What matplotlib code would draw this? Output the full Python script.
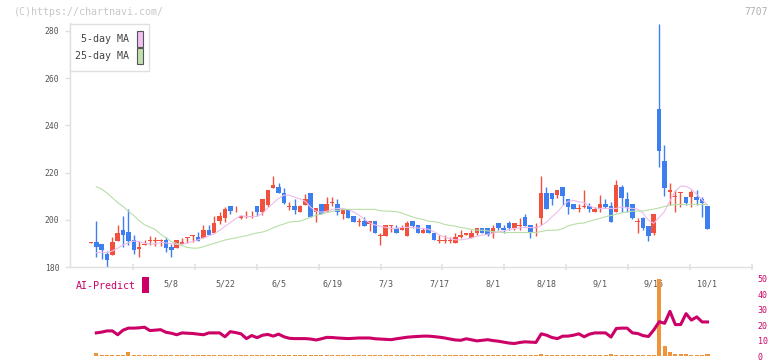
import numpy as np
import matplotlib
matplotlib.use('Agg')
import matplotlib.pyplot as plt
from matplotlib.patches import Rectangle

plt.rcParams['font.family'] = ['DejaVu Sans Mono']

# ローソク足 (open, high, low, close)
opens = [190.3, 190.6, 189.6, 185.5, 185.1, 191.1, 195.6, 194.9, 191.4, 187.6,
         189.3, 191.1, 191.0, 190.9, 191.3, 188.5, 188.2, 189.6, 192.3, 193.2,
         192.7, 192.4, 195.6, 194.6, 199.3, 200.6, 205.8, 203.5, 200.6, 201.3,
         201.3, 205.8, 203.4, 206.2, 213.5, 213.8, 211.5, 205.6, 205.8, 203.4,
         206.2, 211.5, 203.4, 206.5, 203.4, 207.1, 206.6, 202.3, 204.4, 201.5,
         199.0, 199.4, 198.2, 199.4, 193.0, 193.2, 197.5, 196.6, 195.6, 193.2,
         199.4, 197.7, 194.5, 197.7, 194.6, 191.1, 191.1, 191.1, 190.1, 192.7,
         193.5, 192.4, 194.6, 196.6, 196.6, 194.6, 198.5, 196.6, 198.5, 196.3,
         197.3, 201.3, 197.7, 196.4, 200.6, 211.5, 211.5, 210.4, 213.8, 208.7,
         206.5, 204.6, 205.6, 205.8, 203.4, 204.4, 206.5, 205.8, 203.4, 213.8,
         208.7, 206.5, 199.0, 200.6, 197.5, 194.6, 246.8, 224.8, 211.6, 209.5,
         211.4, 209.5, 209.5, 209.5, 208.8, 205.8]
highs = [190.6, 199.4, 189.9, 186.8, 192.8, 197.7, 201.5, 204.5, 193.5, 191.1,
         191.3, 193.3, 192.8, 191.9, 192.8, 189.9, 191.3, 192.1, 192.5, 193.4,
         194.9, 197.7, 197.7, 201.7, 203.1, 205.5, 205.8, 205.8, 201.7, 203.7,
         203.7, 205.8, 208.7, 212.5, 218.5, 215.6, 213.5, 207.6, 208.7, 206.2,
         210.7, 211.5, 204.8, 206.5, 209.6, 209.6, 208.7, 204.5, 204.4, 201.5,
         200.6, 201.3, 199.4, 199.4, 194.6, 197.7, 197.7, 197.7, 197.7, 199.4,
         199.4, 197.7, 196.6, 197.7, 194.6, 193.5, 193.5, 192.8, 194.6, 195.6,
         194.6, 195.6, 196.6, 196.6, 196.6, 197.7, 198.5, 197.7, 199.4, 198.5,
         200.6, 202.3, 197.7, 198.5, 218.5, 213.8, 211.5, 212.5, 213.8, 208.7,
         206.5, 206.5, 212.5, 207.2, 205.5, 210.4, 208.7, 207.6, 216.8, 214.6,
         211.7, 206.5, 200.6, 201.3, 197.5, 202.3, 282.7, 231.6, 215.5, 212.6,
         211.6, 209.5, 212.6, 212.6, 209.7, 205.8]
lows = [190.2, 184.4, 183.2, 180.1, 185.1, 191.1, 188.3, 189.3, 185.4, 184.4,
        189.3, 189.3, 188.8, 188.8, 186.2, 184.4, 188.2, 189.6, 190.3, 190.7,
        191.1, 192.1, 193.4, 194.6, 198.3, 199.2, 202.3, 203.4, 200.3, 200.6,
        200.6, 201.7, 202.0, 205.5, 213.5, 211.5, 206.5, 204.2, 202.3, 203.4,
        206.2, 201.3, 199.2, 202.3, 203.4, 205.9, 202.0, 200.3, 200.6, 199.2,
        197.5, 197.5, 195.2, 194.5, 189.4, 193.2, 194.9, 194.5, 195.6, 193.2,
        196.3, 194.5, 194.5, 194.5, 191.3, 190.1, 190.1, 190.1, 190.1, 192.1,
        193.4, 192.4, 193.5, 194.6, 193.2, 192.4, 195.6, 194.6, 195.6, 195.6,
        195.6, 197.5, 192.4, 193.2, 197.7, 204.4, 206.2, 209.3, 206.2, 202.3,
        204.4, 203.4, 204.8, 203.4, 203.4, 203.4, 204.8, 199.2, 203.4, 203.4,
        203.4, 200.2, 194.6, 195.6, 191.1, 193.5, 222.4, 210.1, 206.2, 203.4,
        205.5, 206.2, 205.5, 206.2, 201.3, 196.1]
closes = [190.5, 188.3, 187.0, 183.1, 190.6, 194.6, 193.4, 191.1, 187.3, 188.5,
          189.6, 191.3, 191.2, 191.1, 188.2, 187.3, 191.3, 190.6, 192.5, 193.4,
          191.1, 195.6, 193.4, 198.7, 201.5, 204.4, 203.7, 203.7, 201.7, 201.5,
          201.5, 203.4, 208.7, 212.5, 214.6, 211.5, 207.3, 205.8, 204.2, 205.8,
          208.7, 201.3, 204.8, 202.3, 206.5, 207.3, 203.4, 204.5, 200.6, 199.2,
          199.2, 197.5, 199.4, 194.5, 193.2, 197.7, 197.7, 194.5, 196.6, 198.5,
          197.5, 194.5, 195.6, 194.5, 191.3, 191.3, 191.3, 191.3, 192.7, 193.5,
          194.6, 194.6, 196.6, 194.6, 193.5, 196.6, 196.3, 195.6, 196.3, 198.5,
          197.5, 197.5, 194.6, 196.6, 211.5, 204.4, 208.7, 212.5, 210.1, 205.5,
          204.4, 204.8, 205.8, 204.4, 204.5, 206.5, 205.4, 199.2, 214.6, 209.3,
          205.5, 200.6, 199.2, 196.3, 193.2, 202.3, 229.2, 213.5, 212.6, 209.7,
          211.6, 207.3, 211.6, 208.4, 207.3, 196.1]

# 移動平均 (index 1 から)
ma5 = [186.0, 186.3, 186.0, 186.8, 188.0, 189.3, 190.3, 191.0, 190.8, 190.0,
       189.8, 189.8, 190.4, 190.2, 189.8, 189.6, 189.6, 190.2, 190.8, 191.5,
       192.3, 193.2, 194.1, 195.5, 197.2, 198.8, 200.4, 201.8, 201.3, 201.3,
       201.5, 202.6, 205.0, 207.0, 209.0, 210.4, 210.4, 209.6, 208.8, 207.8,
       205.3, 203.6, 203.2, 203.6, 204.3, 204.8, 204.8, 204.3, 203.3, 202.0,
       200.2, 198.7, 197.8, 197.2, 196.8, 196.3, 196.3, 196.8, 196.8, 196.8,
       196.5, 196.3, 196.0, 195.0, 193.6, 192.7, 192.0, 191.5, 191.5, 191.8,
       192.3, 193.0, 193.5, 193.8, 194.4, 194.8, 195.3, 195.8, 196.3, 196.6,
       196.7, 196.7, 196.6, 197.5, 199.0, 201.2, 203.2, 205.8, 207.8, 208.2,
       207.6, 207.3, 205.8, 205.0, 204.8, 204.8, 204.8, 204.8, 205.4, 205.0,
       204.8, 204.5, 202.8, 199.8, 198.5, 201.0, 203.5, 207.8, 212.0, 214.2,
       214.2, 213.0, 210.8, 208.5, 206.3]
ma25 = [214.0, 213.0, 211.3, 209.3, 207.3, 205.6, 203.6, 201.8, 199.6, 197.9,
        196.9, 195.9, 193.9, 192.4, 190.7, 190.0, 189.0, 188.3, 188.0, 188.0,
        188.6, 189.3, 190.0, 190.7, 191.4, 191.9, 192.3, 192.8, 193.2, 193.9,
        194.4, 194.8, 195.5, 196.6, 197.5, 198.2, 199.0, 199.2, 199.4, 200.2,
        201.1, 201.9, 202.4, 203.1, 203.5, 204.0, 204.3, 204.4, 204.4, 204.4,
        204.4, 204.4, 204.4, 203.8, 203.7, 203.6, 203.4, 202.9, 202.0, 201.2,
        200.6, 200.1, 199.4, 199.2, 198.8, 198.0, 197.6, 197.3, 196.7, 196.4,
        195.9, 195.6, 195.6, 195.3, 195.0, 194.8, 194.6, 194.6, 194.6, 194.6,
        194.6, 194.6, 194.6, 195.0, 195.5, 195.6, 195.6, 196.2, 197.4, 198.0,
        198.5, 198.6, 199.4, 200.0, 200.6, 201.3, 201.8, 202.3, 202.9, 203.3,
        203.6, 203.7, 203.7, 204.1, 204.5, 205.0, 205.6, 206.1, 206.4, 206.5,
        206.5, 206.5, 206.5, 206.5, 206.4]

# AI-Predict (index 1 から)
ai_pred = [15.0, 15.5, 16.3, 16.3, 13.8, 16.8, 18.1, 18.1, 18.3, 18.7,
           16.5, 16.8, 17.1, 15.4, 14.8, 13.8, 15.0, 14.8, 14.6, 14.2,
           13.8, 15.0, 15.0, 15.0, 12.5, 15.8, 15.2, 14.4, 11.3, 13.3,
           11.9, 13.5, 14.0, 12.9, 14.2, 12.5, 11.5, 11.3, 11.3, 11.3,
           11.0, 10.4, 11.2, 12.1, 12.0, 11.7, 11.5, 11.3, 11.5, 11.7,
           11.7, 11.7, 11.2, 11.0, 10.8, 10.6, 11.2, 11.7, 12.2, 12.5,
           12.7, 12.9, 12.9, 12.6, 12.2, 11.7, 11.0, 10.4, 10.2, 11.2,
           10.5, 9.8, 10.2, 10.6, 10.0, 9.6, 9.0, 8.4, 8.1, 8.8,
           9.2, 9.0, 8.8, 14.4, 13.5, 12.0, 11.3, 12.9, 12.9, 13.5,
           14.4, 12.5, 14.2, 15.0, 15.0, 15.0, 12.3, 17.9, 18.1, 18.1,
           15.0, 14.6, 13.2, 12.7, 17.0, 22.3, 21.2, 29.0, 20.4, 20.4,
           27.5, 23.3, 25.4, 22.1, 22.1]
# 出来高 (index 1 から, 同じ目盛り)
volume = [1.9, 0.5, 0.7, 0.5, 0.5, 0.9, 2.9, 0.8, 0.5, 0.5,
          0.5, 0.5, 0.5, 0.8, 0.5, 0.5, 0.5, 0.5, 0.5, 0.8,
          0.5, 0.5, 0.5, 0.5, 0.5, 0.5, 0.5, 0.5, 0.5, 0.5,
          0.5, 0.5, 0.5, 0.5, 0.5, 0.5, 0.5, 0.5, 0.5, 0.5,
          0.5, 0.5, 0.5, 0.5, 0.5, 0.5, 0.5, 0.5, 0.5, 0.5,
          0.5, 0.5, 0.5, 0.5, 0.5, 0.5, 0.5, 0.5, 0.5, 0.5,
          0.5, 0.5, 0.5, 0.5, 0.5, 0.5, 0.5, 0.5, 0.5, 0.5,
          0.5, 0.5, 0.5, 0.5, 0.5, 0.5, 0.5, 0.5, 0.5, 0.5,
          0.5, 0.5, 0.5, 1.3, 0.7, 0.7, 0.5, 0.8, 0.5, 0.5,
          0.5, 0.8, 0.5, 0.5, 0.8, 0.5, 1.3, 0.8, 0.8, 0.8,
          0.8, 0.8, 0.8, 0.8, 0.5, 60.0, 6.3, 2.5, 1.3, 1.3,
          1.3, 0.6, 0.6, 0.6, 1.5]

date_labels = ['5/8', '5/22', '6/5', '6/19', '7/3', '7/17', '8/1', '8/18', '9/1', '9/16', '10/1']
date_index = [15, 25, 35, 45, 55, 65, 75, 85, 95, 105, 115]

RED = '#f0503c'
BLUE = '#3d7ff0'
MAGENTA = '#cc0066'
GRID = '#e0e0e0'
W, H = 772, 361


def px(x, y):
    # ピクセル座標 -> figure座標
    return x / W, 1 - y / H


fig = plt.figure(figsize=(W / 100, H / 100), dpi=100)

# 上段: ローソク足
ax = fig.add_axes([70 / W, 1 - 267 / H, (752 - 70) / W, (267 - 23) / H])
n = len(closes)
idx = np.arange(n)
o = np.array(opens)
c = np.array(closes)
up = c >= o
colors = np.where(up, RED, BLUE)
ax.vlines(idx, lows, highs, colors=colors, linewidth=1.0, zorder=2)
body_h = np.maximum(np.abs(c - o), 0.4)
ax.bar(idx, body_h, bottom=np.minimum(o, c), width=0.85, color=colors, linewidth=0, zorder=3)
ax.plot(idx[1:], ma5, color='#eebcee', linewidth=0.8, zorder=4)
ax.plot(idx[1:], ma25, color='#b8dea8', linewidth=0.8, zorder=4)

ax.set_xlim(-3.9, 123.3)
ax.set_ylim(180, 283.3)
ax.set_yticks([180, 200, 220, 240, 260, 280])
ax.tick_params(axis='y', length=3.6, width=1, color=GRID, labelcolor='#555555', labelsize=5.8, pad=4)
ax.set_xticks(date_index)
ax.set_xticklabels(date_labels)
ax.tick_params(axis='x', which='major', length=0, labelcolor='#555555', labelsize=6, pad=9)
ax.set_xticks(7.84 + 11.55 * np.arange(11), minor=True)
ax.tick_params(axis='x', which='minor', length=5, width=1.2, color=GRID, direction='inout')
for s in ['top', 'right']:
    ax.spines[s].set_visible(False)
for s in ['left', 'bottom']:
    ax.spines[s].set_color(GRID)
    ax.spines[s].set_linewidth(1.0)

# 凡例
x0, y0 = px(70, 71)
x1, y1 = px(149, 24)
fig.patches.append(Rectangle((x0, y0), x1 - x0, y1 - y0, transform=fig.transFigure,
                             facecolor='white', edgecolor=GRID, linewidth=1.0, zorder=5))
for label, fc, yt in [('5-day MA', '#f0c0f0', 39), ('25-day MA', '#c0e0b0', 56)]:
    fig.text(*px(129, yt), label, ha='right', va='center', fontsize=7.2, color='#444444', zorder=6)
    rx, ry = px(137, yt + 7.5)
    fig.patches.append(Rectangle((rx, ry), 5.5 / W, 15 / H, transform=fig.transFigure,
                                 facecolor=fc, edgecolor='#555555', linewidth=0.8, zorder=6))

# 下段: AI-Predict
ax2 = fig.add_axes([70 / W, 1 - 356 / H, (752 - 70) / W, (356 - 279) / H])
ax2.bar(idx[1:], volume, width=0.75, color='#f0943c', linewidth=0, zorder=2)
ax2.plot(idx[1:], ai_pred, color=MAGENTA, linewidth=2.2, zorder=3)
ax2.set_xlim(-3.9, 123.3)
ax2.set_ylim(0, 50)
ax2.set_xticks([])
ax2.yaxis.tick_right()
ax2.set_yticks([0, 10, 20, 30, 40, 50])
ax2.tick_params(axis='y', length=0, labelcolor=MAGENTA, labelsize=6, pad=4)
for s in ax2.spines.values():
    s.set_visible(False)
ax2.patch.set_alpha(0)

fig.text(*px(76, 286), 'AI-Predict', ha='left', va='center', fontsize=7.2, color=MAGENTA)
mx, my = px(142, 293)
fig.patches.append(Rectangle((mx, my), 7 / W, 16 / H, transform=fig.transFigure,
                             facecolor=MAGENTA, edgecolor='none'))

# 透かし
fig.text(*px(14, 12), '(C)https://chartnavi.com/', ha='left', va='center', fontsize=7.2, color='#c8c8c8')
fig.text(*px(768, 12), '7707', ha='right', va='center', fontsize=7, color='#b0b0b0')

plt.savefig('out.png', dpi=100)
